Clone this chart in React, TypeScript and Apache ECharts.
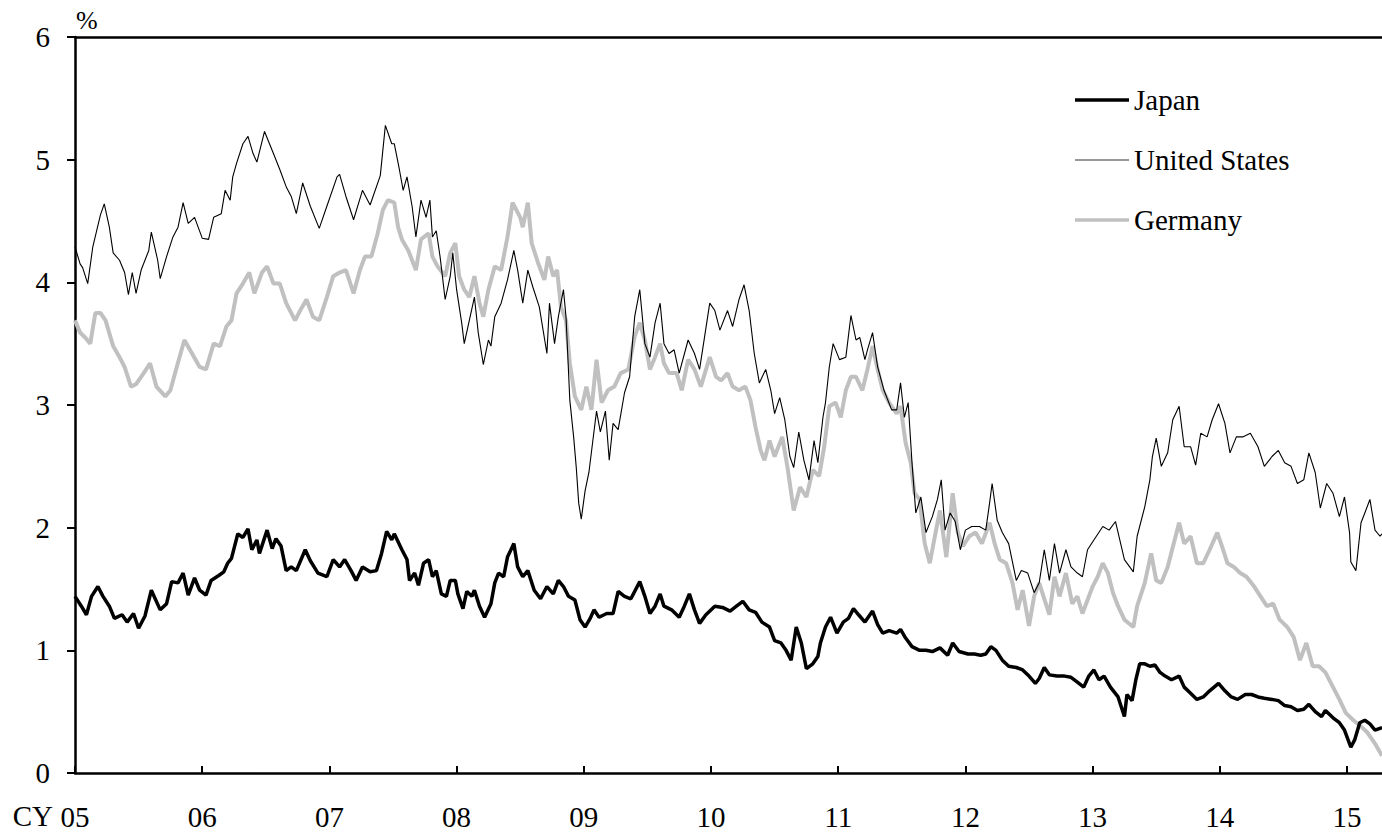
import React, { useEffect, useRef } from "react";
import * as echarts from "echarts";

// Decimal-year / percent pairs
const japan: [number, number][] = [
  [2005.00,1.44],[2005.05,1.36],[2005.09,1.29],[2005.13,1.44],[2005.18,1.52],[2005.22,1.44],[2005.27,1.36],[2005.31,1.26],[2005.37,1.29],[2005.41,1.23],
  [2005.46,1.30],[2005.50,1.18],[2005.55,1.28],[2005.60,1.49],[2005.67,1.33],[2005.72,1.38],[2005.76,1.56],[2005.81,1.55],[2005.85,1.63],[2005.89,1.45],
  [2005.94,1.59],[2005.98,1.49],[2006.03,1.45],[2006.07,1.57],[2006.13,1.61],[2006.17,1.64],[2006.20,1.71],[2006.23,1.75],[2006.26,1.87],[2006.28,1.95],
  [2006.32,1.92],[2006.36,1.99],[2006.39,1.82],[2006.43,1.90],[2006.45,1.79],[2006.51,1.98],[2006.55,1.83],[2006.58,1.91],[2006.62,1.85],[2006.66,1.65],
  [2006.70,1.68],[2006.74,1.65],[2006.81,1.82],[2006.85,1.73],[2006.91,1.63],[2006.98,1.60],[2007.03,1.74],[2007.08,1.68],[2007.12,1.74],[2007.17,1.65],
  [2007.21,1.57],[2007.26,1.68],[2007.32,1.64],[2007.37,1.65],[2007.41,1.79],[2007.45,1.97],[2007.49,1.90],[2007.51,1.95],[2007.57,1.82],[2007.61,1.74],
  [2007.63,1.57],[2007.67,1.63],[2007.70,1.53],[2007.74,1.71],[2007.78,1.74],[2007.81,1.60],[2007.84,1.65],[2007.88,1.46],[2007.92,1.44],[2007.95,1.57],
  [2007.99,1.57],[2008.01,1.46],[2008.05,1.34],[2008.08,1.48],[2008.12,1.44],[2008.14,1.49],[2008.18,1.36],[2008.22,1.27],[2008.27,1.38],[2008.30,1.55],
  [2008.33,1.63],[2008.37,1.60],[2008.40,1.76],[2008.45,1.87],[2008.48,1.68],[2008.52,1.60],[2008.56,1.65],[2008.61,1.49],[2008.66,1.42],[2008.71,1.52],
  [2008.76,1.46],[2008.80,1.57],[2008.84,1.52],[2008.88,1.44],[2008.93,1.41],[2008.97,1.25],[2009.01,1.19],[2009.05,1.26],[2009.08,1.33],[2009.12,1.27],
  [2009.18,1.30],[2009.23,1.30],[2009.27,1.48],[2009.32,1.44],[2009.37,1.42],[2009.44,1.56],[2009.48,1.44],[2009.52,1.30],[2009.56,1.36],[2009.60,1.46],
  [2009.63,1.36],[2009.69,1.33],[2009.75,1.27],[2009.79,1.36],[2009.83,1.46],[2009.87,1.33],[2009.91,1.22],[2009.96,1.29],[2010.03,1.36],[2010.09,1.35],
  [2010.15,1.32],[2010.20,1.36],[2010.25,1.40],[2010.30,1.33],[2010.35,1.31],[2010.40,1.23],[2010.46,1.19],[2010.50,1.08],[2010.55,1.06],[2010.59,1.00],
  [2010.63,0.92],[2010.67,1.19],[2010.71,1.06],[2010.75,0.85],[2010.80,0.89],[2010.84,0.95],[2010.86,1.06],[2010.90,1.19],[2010.94,1.27],[2010.99,1.14],
  [2011.04,1.23],[2011.08,1.26],[2011.12,1.34],[2011.16,1.29],[2011.21,1.23],[2011.27,1.32],[2011.31,1.21],[2011.35,1.14],[2011.40,1.16],[2011.46,1.14],
  [2011.49,1.17],[2011.53,1.10],[2011.58,1.03],[2011.64,1.00],[2011.69,1.00],[2011.74,0.99],[2011.80,1.02],[2011.86,0.96],[2011.90,1.06],[2011.95,0.99],
  [2012.02,0.97],[2012.07,0.97],[2012.12,0.96],[2012.16,0.97],[2012.20,1.03],[2012.24,1.00],[2012.29,0.92],[2012.34,0.87],[2012.40,0.86],[2012.45,0.84],
  [2012.50,0.79],[2012.55,0.73],[2012.58,0.77],[2012.62,0.86],[2012.66,0.80],[2012.72,0.79],[2012.78,0.79],[2012.83,0.78],[2012.88,0.74],[2012.93,0.70],
  [2012.97,0.79],[2013.01,0.84],[2013.05,0.76],[2013.09,0.79],[2013.14,0.70],[2013.20,0.62],[2013.25,0.46],[2013.27,0.64],[2013.31,0.59],[2013.34,0.76],
  [2013.37,0.89],[2013.41,0.89],[2013.45,0.87],[2013.49,0.88],[2013.53,0.82],[2013.57,0.79],[2013.62,0.76],[2013.68,0.79],[2013.72,0.70],[2013.77,0.65],
  [2013.82,0.60],[2013.87,0.62],[2013.92,0.67],[2013.99,0.73],[2014.04,0.67],[2014.09,0.62],[2014.14,0.60],[2014.20,0.64],[2014.25,0.64],[2014.30,0.62],
  [2014.35,0.61],[2014.41,0.60],[2014.46,0.59],[2014.51,0.55],[2014.56,0.54],[2014.61,0.51],[2014.66,0.52],[2014.70,0.56],[2014.75,0.50],[2014.80,0.46],
  [2014.83,0.51],[2014.89,0.45],[2014.94,0.41],[2014.98,0.35],[2015.03,0.21],[2015.06,0.27],[2015.10,0.41],[2015.14,0.43],[2015.18,0.40],[2015.22,0.35],
  [2015.275,0.37],
];

const unitedStates: [number, number][] = [
  [2005.00,4.29],[2005.04,4.15],[2005.06,4.12],[2005.10,3.99],[2005.14,4.29],[2005.20,4.55],[2005.23,4.64],[2005.27,4.45],[2005.30,4.24],[2005.35,4.18],
  [2005.39,4.08],[2005.42,3.90],[2005.45,4.08],[2005.48,3.91],[2005.52,4.10],[2005.58,4.26],[2005.60,4.41],[2005.65,4.18],[2005.67,4.03],[2005.72,4.21],
  [2005.77,4.37],[2005.81,4.45],[2005.85,4.65],[2005.89,4.48],[2005.94,4.53],[2006.00,4.36],[2006.05,4.35],[2006.09,4.53],[2006.15,4.56],[2006.18,4.75],
  [2006.22,4.67],[2006.24,4.86],[2006.27,4.97],[2006.32,5.13],[2006.36,5.19],[2006.40,5.05],[2006.43,4.98],[2006.49,5.23],[2006.56,5.05],[2006.61,4.92],
  [2006.66,4.78],[2006.70,4.70],[2006.74,4.56],[2006.79,4.81],[2006.85,4.62],[2006.92,4.44],[2006.98,4.62],[2007.06,4.86],[2007.08,4.88],[2007.13,4.70],
  [2007.19,4.51],[2007.26,4.75],[2007.32,4.63],[2007.40,4.87],[2007.44,5.28],[2007.49,5.13],[2007.51,5.13],[2007.55,4.92],[2007.58,4.75],[2007.61,4.86],
  [2007.65,4.62],[2007.68,4.37],[2007.72,4.67],[2007.76,4.53],[2007.79,4.67],[2007.81,4.37],[2007.84,4.42],[2007.87,4.21],[2007.91,3.86],[2007.95,4.05],
  [2007.97,4.24],[2008.00,3.94],[2008.04,3.67],[2008.06,3.50],[2008.10,3.69],[2008.14,3.88],[2008.17,3.59],[2008.21,3.33],[2008.25,3.53],[2008.27,3.48],
  [2008.30,3.72],[2008.35,3.83],[2008.40,4.02],[2008.45,4.26],[2008.48,4.10],[2008.52,3.83],[2008.56,4.10],[2008.60,3.96],[2008.65,3.80],[2008.71,3.42],
  [2008.73,3.83],[2008.77,3.50],[2008.80,3.72],[2008.84,3.94],[2008.86,3.72],[2008.89,3.04],[2008.92,2.74],[2008.94,2.50],[2008.96,2.20],[2008.98,2.07],
  [2009.01,2.30],[2009.04,2.45],[2009.07,2.70],[2009.10,2.95],[2009.13,2.78],[2009.17,2.95],[2009.20,2.55],[2009.23,2.85],[2009.27,2.80],[2009.32,3.10],
  [2009.36,3.23],[2009.40,3.72],[2009.44,3.94],[2009.48,3.50],[2009.52,3.39],[2009.56,3.67],[2009.60,3.83],[2009.63,3.50],[2009.67,3.42],[2009.71,3.45],
  [2009.75,3.26],[2009.82,3.53],[2009.87,3.42],[2009.91,3.29],[2009.95,3.56],[2009.99,3.83],[2010.03,3.77],[2010.07,3.61],[2010.13,3.77],[2010.17,3.64],
  [2010.22,3.86],[2010.26,3.98],[2010.30,3.77],[2010.34,3.42],[2010.38,3.18],[2010.43,3.29],[2010.47,3.12],[2010.50,2.93],[2010.54,3.06],[2010.58,2.88],
  [2010.62,2.58],[2010.65,2.49],[2010.69,2.78],[2010.73,2.55],[2010.77,2.39],[2010.81,2.71],[2010.84,2.53],[2010.88,2.90],[2010.90,3.02],[2010.93,3.31],
  [2010.96,3.50],[2011.01,3.37],[2011.06,3.39],[2011.10,3.73],[2011.14,3.53],[2011.17,3.55],[2011.21,3.37],[2011.23,3.45],[2011.27,3.59],[2011.31,3.31],
  [2011.36,3.12],[2011.42,2.96],[2011.46,2.96],[2011.49,3.18],[2011.52,2.90],[2011.55,3.02],[2011.58,2.53],[2011.61,2.12],[2011.65,2.25],[2011.69,1.96],
  [2011.74,2.09],[2011.78,2.23],[2011.81,2.39],[2011.84,1.98],[2011.88,2.12],[2011.92,2.05],[2011.96,1.82],[2012.00,1.98],[2012.05,2.01],[2012.11,2.01],
  [2012.16,1.98],[2012.19,2.20],[2012.21,2.36],[2012.25,2.06],[2012.29,1.96],[2012.34,1.87],[2012.40,1.57],[2012.44,1.65],[2012.49,1.63],[2012.54,1.47],
  [2012.58,1.55],[2012.62,1.82],[2012.66,1.57],[2012.70,1.87],[2012.74,1.63],[2012.79,1.82],[2012.83,1.68],[2012.88,1.63],[2012.92,1.60],[2012.96,1.82],
  [2013.01,1.90],[2013.08,2.01],[2013.13,1.98],[2013.18,2.05],[2013.25,1.74],[2013.32,1.64],[2013.35,1.93],[2013.41,2.17],[2013.45,2.39],[2013.47,2.58],
  [2013.50,2.73],[2013.54,2.50],[2013.59,2.61],[2013.63,2.88],[2013.68,2.99],[2013.72,2.66],[2013.77,2.66],[2013.81,2.51],[2013.85,2.77],[2013.90,2.74],
  [2013.94,2.88],[2013.99,3.01],[2014.04,2.85],[2014.08,2.61],[2014.13,2.74],[2014.18,2.74],[2014.24,2.77],[2014.30,2.66],[2014.35,2.50],[2014.41,2.58],
  [2014.46,2.63],[2014.51,2.53],[2014.56,2.50],[2014.61,2.36],[2014.66,2.39],[2014.70,2.61],[2014.75,2.45],[2014.79,2.16],[2014.84,2.36],[2014.89,2.28],
  [2014.94,2.09],[2014.98,2.25],[2015.02,1.96],[2015.03,1.72],[2015.07,1.65],[2015.11,2.04],[2015.14,2.12],[2015.18,2.23],[2015.22,1.98],[2015.26,1.93],
  [2015.275,1.95],
];

const germany: [number, number][] = [
  [2005.00,3.69],[2005.04,3.59],[2005.08,3.55],[2005.12,3.50],[2005.16,3.75],[2005.20,3.75],[2005.24,3.69],[2005.30,3.48],[2005.35,3.39],[2005.39,3.31],
  [2005.44,3.15],[2005.48,3.17],[2005.54,3.26],[2005.59,3.34],[2005.64,3.15],[2005.71,3.07],[2005.75,3.12],[2005.80,3.31],[2005.86,3.53],[2005.92,3.42],
  [2005.98,3.31],[2006.03,3.29],[2006.09,3.50],[2006.14,3.48],[2006.19,3.64],[2006.23,3.69],[2006.27,3.91],[2006.32,3.99],[2006.37,4.08],[2006.41,3.91],
  [2006.47,4.08],[2006.51,4.13],[2006.56,3.99],[2006.61,3.99],[2006.66,3.83],[2006.73,3.69],[2006.77,3.77],[2006.82,3.86],[2006.87,3.72],[2006.92,3.69],
  [2006.98,3.88],[2007.03,4.05],[2007.08,4.08],[2007.13,4.10],[2007.19,3.91],[2007.24,4.10],[2007.28,4.21],[2007.33,4.21],[2007.38,4.40],[2007.42,4.59],
  [2007.46,4.67],[2007.51,4.65],[2007.54,4.45],[2007.57,4.35],[2007.62,4.26],[2007.68,4.10],[2007.72,4.35],[2007.78,4.40],[2007.81,4.21],[2007.85,4.13],
  [2007.91,4.05],[2007.95,4.24],[2007.99,4.32],[2008.02,4.05],[2008.06,3.94],[2008.10,3.88],[2008.14,4.05],[2008.18,3.83],[2008.21,3.72],[2008.25,3.94],
  [2008.30,4.13],[2008.35,4.10],[2008.40,4.37],[2008.44,4.65],[2008.50,4.53],[2008.52,4.45],[2008.56,4.65],[2008.59,4.32],[2008.64,4.16],[2008.69,4.02],
  [2008.72,4.21],[2008.76,4.05],[2008.79,4.10],[2008.82,3.80],[2008.86,3.69],[2008.89,3.34],[2008.93,3.07],[2008.98,2.96],[2009.02,3.15],[2009.06,2.96],
  [2009.10,3.37],[2009.14,3.02],[2009.19,3.12],[2009.24,3.15],[2009.29,3.26],[2009.35,3.29],[2009.40,3.56],[2009.44,3.67],[2009.48,3.53],[2009.52,3.29],
  [2009.56,3.39],[2009.60,3.50],[2009.63,3.34],[2009.67,3.26],[2009.73,3.26],[2009.77,3.12],[2009.82,3.37],[2009.87,3.29],[2009.92,3.15],[2009.99,3.39],
  [2010.04,3.23],[2010.08,3.20],[2010.13,3.26],[2010.17,3.15],[2010.22,3.12],[2010.27,3.15],[2010.31,3.04],[2010.35,2.82],[2010.39,2.63],[2010.42,2.55],
  [2010.46,2.71],[2010.50,2.58],[2010.56,2.74],[2010.60,2.50],[2010.65,2.14],[2010.70,2.33],[2010.75,2.25],[2010.80,2.47],[2010.85,2.42],[2010.89,2.66],
  [2010.93,2.99],[2010.98,3.02],[2011.02,2.90],[2011.06,3.12],[2011.10,3.23],[2011.14,3.23],[2011.19,3.12],[2011.23,3.29],[2011.27,3.48],[2011.31,3.29],
  [2011.35,3.12],[2011.40,3.02],[2011.46,2.93],[2011.49,2.99],[2011.53,2.69],[2011.57,2.53],[2011.60,2.28],[2011.64,2.23],[2011.68,1.87],[2011.72,1.71],
  [2011.76,1.93],[2011.80,2.14],[2011.85,1.76],[2011.90,2.28],[2011.94,1.96],[2011.98,1.85],[2012.03,1.93],[2012.08,1.96],[2012.13,1.87],[2012.19,2.04],
  [2012.23,1.87],[2012.27,1.74],[2012.32,1.71],[2012.37,1.55],[2012.41,1.33],[2012.45,1.49],[2012.50,1.20],[2012.54,1.44],[2012.58,1.55],[2012.62,1.42],
  [2012.66,1.29],[2012.70,1.60],[2012.74,1.44],[2012.79,1.63],[2012.84,1.38],[2012.88,1.44],[2012.92,1.30],[2012.96,1.41],[2013.00,1.52],[2013.04,1.60],
  [2013.08,1.71],[2013.12,1.63],[2013.16,1.47],[2013.20,1.36],[2013.25,1.25],[2013.32,1.19],[2013.35,1.36],[2013.41,1.55],[2013.46,1.79],[2013.50,1.57],
  [2013.54,1.55],[2013.59,1.68],[2013.63,1.84],[2013.68,2.04],[2013.72,1.87],[2013.77,1.93],[2013.82,1.71],[2013.87,1.71],[2013.92,1.82],[2013.98,1.96],
  [2014.02,1.84],[2014.06,1.71],[2014.11,1.68],[2014.16,1.63],[2014.21,1.60],[2014.27,1.52],[2014.32,1.44],[2014.37,1.36],[2014.42,1.38],[2014.47,1.25],
  [2014.53,1.19],[2014.58,1.11],[2014.63,0.92],[2014.68,1.06],[2014.73,0.87],[2014.78,0.87],[2014.83,0.82],[2014.89,0.70],[2014.94,0.60],[2014.99,0.49],
  [2015.05,0.43],[2015.11,0.38],[2015.16,0.33],[2015.22,0.24],[2015.275,0.14],
];

const yearTicks = [2005, 2006, 2007, 2008, 2009, 2010, 2011, 2012, 2013, 2014, 2015];
const xMin = 2005;
const xMax = 2015.275;
const FONT = "Liberation Serif, Times New Roman, serif";

export default function App() {
  const ref = useRef<HTMLDivElement>(null);

  useEffect(() => {
    if (!ref.current) return;
    const chart = echarts.init(ref.current, undefined, { renderer: "svg" });
    const axisColor = "#000";
    chart.setOption({
      animation: false,
      backgroundColor: "#fff",
      textStyle: { fontFamily: FONT },
      grid: { left: 75, right: 0, top: 37, bottom: 59, containLabel: false },
      legend: {
        orient: "vertical",
        left: 1075,
        top: 85,
        padding: 0,
        itemWidth: 54,
        itemHeight: 14,
        itemGap: 30,
        symbolKeepAspect: true,
        data: [
          { name: "Japan", icon: "path://M0,0H54V3.5H0Z", itemStyle: { color: "#000" } },
          { name: "United States", icon: "path://M0,0H54V1.2H0Z", itemStyle: { color: "#333" } },
          { name: "Germany", icon: "path://M0,0H54V3.5H0Z", itemStyle: { color: "#c0c0c0" } },
        ],
        textStyle: { fontFamily: FONT, fontSize: 29, color: "#000", lineHeight: 30 },
        selectedMode: false,
      },
      xAxis: [
        {
          type: "value",
          min: xMin,
          max: xMax,
          position: "bottom",
          axisLine: { show: true, lineStyle: { color: axisColor, width: 2.5 } },
          axisTick: { show: true, inside: true, length: 7, lineStyle: { color: axisColor, width: 2 }, customValues: yearTicks },
          axisLabel: {
            show: true,
            customValues: yearTicks,
            margin: 29,
            fontFamily: FONT,
            fontSize: 29,
            color: "#000",
            formatter: (v: number) => String(Math.round(v) % 100).padStart(2, "0"),
          },
          splitLine: { show: false },
        },
        {
          type: "value",
          min: xMin,
          max: xMax,
          position: "top",
          axisLine: { show: true, onZero: false, lineStyle: { color: axisColor, width: 2.5 } },
          axisTick: { show: false },
          axisLabel: { show: false },
          splitLine: { show: false },
        },
      ],
      yAxis: {
        type: "value",
        min: 0,
        max: 6,
        interval: 1,
        axisLine: { show: true, lineStyle: { color: axisColor, width: 2.5 } },
        axisTick: { show: true, inside: false, length: 8, lineStyle: { color: axisColor, width: 2 } },
        axisLabel: { margin: 25, fontFamily: FONT, fontSize: 29, color: "#000" },
        splitLine: { show: false },
      },
      graphic: [
        { type: "text", left: 76, top: 7, style: { text: "%", fontFamily: FONT, fontSize: 26, fill: "#000" } },
        { type: "text", x: 53, y: 816, style: { text: "CY", fontFamily: FONT, fontSize: 29, fill: "#000", textAlign: "right", textVerticalAlign: "middle" } },
      ],
      series: [
        {
          name: "Germany",
          type: "line",
          data: germany,
          showSymbol: false,
          symbol: "none",
          lineStyle: { color: "#c0c0c0", width: 4 },
          itemStyle: { color: "#c0c0c0" },
          z: 2,
        },
        {
          name: "United States",
          type: "line",
          data: unitedStates,
          showSymbol: false,
          symbol: "none",
          lineStyle: { color: "#000", width: 1.1 },
          itemStyle: { color: "#000" },
          z: 3,
        },
        {
          name: "Japan",
          type: "line",
          data: japan,
          showSymbol: false,
          symbol: "none",
          lineStyle: { color: "#000", width: 3.5 },
          itemStyle: { color: "#000" },
          z: 4,
        },
      ],
    });
    return () => chart.dispose();
  }, []);

  return (
    <div
      ref={ref}
      style={{ position: "fixed", left: 0, top: 0, width: 1382, height: 832, background: "#fff" }}
    />
  );
}
